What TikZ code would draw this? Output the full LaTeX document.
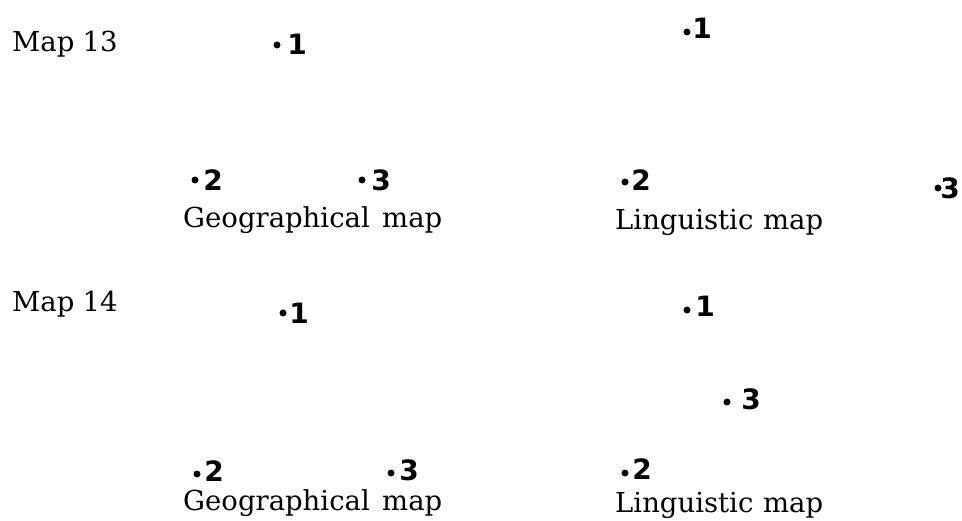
\documentclass[tikz,border=0pt]{standalone}
\usepackage{fontspec}
\setmainfont{DejaVu Serif}
\newfontfamily\digitfont{DejaVu Sans}
\begin{document}
\begin{tikzpicture}[x=1pt,y=-1pt,
  caption/.style={font=\fontsize{27.5}{30}\selectfont, anchor=base west, inner sep=0pt},
  mapdot/.style={circle, fill=black, inner sep=0pt, minimum size=7pt},
  digit/.style={font=\digitfont\bfseries\fontsize{28}{32}\selectfont, inner sep=0pt, anchor=center}]
\useasboundingbox (0,0) rectangle (962,521);
% Map 13
\node[caption] (m13) at (12,52) {Map\hspace{0.3em}13};
% geographical 13
\node[mapdot] (g13a) at (277,45) {};
\node[digit] (g13al) at (297,44) {1};
\node[mapdot] (g13b) at (195,180) {};
\node[digit] (g13bl) at (213,180) {2};
\node[mapdot] (g13c) at (362,180) {};
\node[digit] (g13cl) at (381,180) {3};
\node[caption] (g13t) at (183,228) {Geographical\hspace{0.45em}map};
% linguistic 13
\node[mapdot] (l13a) at (687,32) {};
\node[digit] (l13al) at (702,28) {1};
\node[mapdot] (l13b) at (625,182) {};
\node[digit] (l13bl) at (641,180) {2};
\node[mapdot] (l13c) at (938,188) {};
\node[digit] (l13cl) at (950,188) {3};
\node[caption] (l13t) at (615,230) {Linguistic\hspace{0.35em}map};
% Map 14
\node[caption] (m14) at (12,312) {Map\hspace{0.3em}14};
% geographical 14
\node[mapdot] (g14a) at (283,313) {};
\node[digit] (g14al) at (299,313) {1};
\node[mapdot] (g14b) at (197,474) {};
\node[digit] (g14bl) at (214,471) {2};
\node[mapdot] (g14c) at (391,473) {};
\node[digit] (g14cl) at (409,470) {3};
\node[caption] (g14t) at (183,511) {Geographical\hspace{0.45em}map};
% linguistic 14
\node[mapdot] (l14a) at (687,310) {};
\node[digit] (l14al) at (705,306) {1};
\node[mapdot] (l14c) at (727,402) {};
\node[digit] (l14cl) at (751,399) {3};
\node[mapdot] (l14b) at (625,473) {};
\node[digit] (l14bl) at (642,469) {2};
\node[caption] (l14t) at (615,512) {Linguistic\hspace{0.35em}map};
\end{tikzpicture}
\end{document}
